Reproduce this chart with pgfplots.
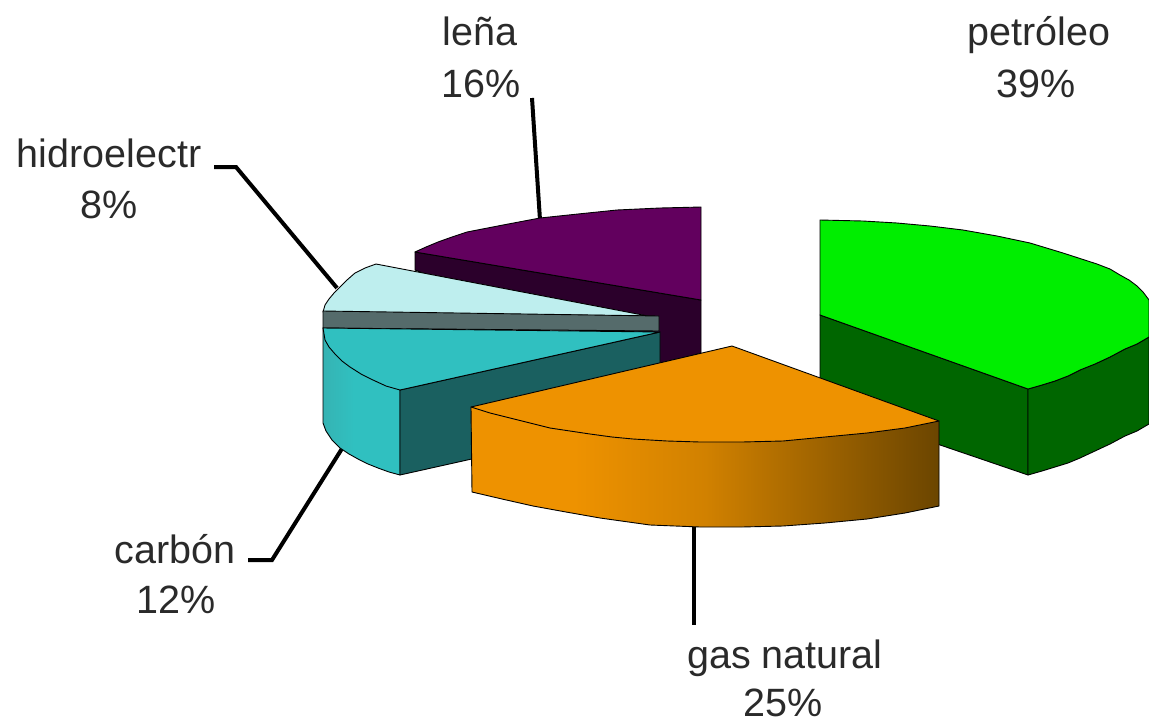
\documentclass[border=0pt]{standalone}
\usepackage{fontspec}
\setmainfont{Liberation Sans}
\usepackage{pgfplots}
\pgfplotsset{compat=1.18}

\definecolor{grn}{HTML}{00EE00}
\definecolor{grnd}{HTML}{006600}
\definecolor{org}{HTML}{EE9200}
\definecolor{brn}{HTML}{6B4500}
\definecolor{pur}{HTML}{62005E}
\definecolor{purd}{HTML}{2B002B}
\definecolor{cyl}{HTML}{BEEEEE}
\definecolor{gry}{HTML}{556B6B}
\definecolor{tea}{HTML}{30C0C0}
\definecolor{tead}{HTML}{1A6060}
\definecolor{txt}{HTML}{2A2A2A}

\pgfdeclarehorizontalshading{orangeside}{100bp}{
  color(0bp)=(org); color(36bp)=(org); color(50bp)=(org!78!brn);
  color(75bp)=(brn); color(100bp)=(brn)}
\pgfdeclarehorizontalshading{tealside}{100bp}{
  color(0bp)=(tea!85!gry); color(25bp)=(tea!85!gry);
  color(45bp)=(tea); color(100bp)=(tea)}

\tikzset{
  edge/.style={draw=black, line width=0.9pt, line join=round},
  leader/.style={draw=black, line width=4pt},
  lbl/.style={anchor=base, text=txt, font=\fontsize{39.5}{39.5}\selectfont, inner sep=0pt},
}

\begin{document}
\begin{tikzpicture}
  \begin{axis}[
      scale only axis,
      width=1149pt,
      height=721pt,
      xmin=0, xmax=1149,
      ymin=0, ymax=721,
      y dir=reverse,
      hide axis,
    ]

    % leader lines
    \addplot[leader] coordinates {(532,98) (540,220)};
    \addplot[leader] coordinates {(214,167) (236,167) (337,288)};
    \addplot[leader] coordinates {(248,560) (272,560) (343,447)};
    \addplot[leader] coordinates {(694,525) (694,625)};

    % lena
    \addplot[edge, fill=purd] coordinates {
        (415,252) (701,300) (701,353) (660,366) (415,270)
      } -- cycle;
    \addplot[edge, fill=pur] coordinates {
        (701,207) (660,208) (617,210) (578,214) (540,218) (503,225)
        (467,232) (452,237) (438,242) (426,247) (415,252) (701,300)
      } -- cycle;

    % hidroelectr
    \addplot[edge, fill=cyl] coordinates {
        (376,264) (365,268) (355,273) (347,280) (340,287) (334,293)
        (329,299) (325,305) (323,312) (648,316)
      } -- cycle;
    \addplot[edge, fill=gry] coordinates {
        (323,311) (659,316) (659,331) (323,328)
      } -- cycle;

    % carbon
    \addplot[edge, shade, shading=tealside] coordinates {
        (323,328) (323,423) (326,431) (332,440) (340,448) (349,454) (358,459)
        (368,464) (378,468) (389,472) (400,475) (400,390)
      } -- cycle;
    \addplot[edge, fill=tead] coordinates {
        (400,390) (660,332) (660,417) (400,475)
      } -- cycle;
    \addplot[edge, fill=tea] coordinates {
        (323,328) (325,340) (329,347) (335,354) (342,361) (350,367) (361,374)
        (373,380) (386,386) (400,390) (660,332)
      } -- cycle;

    % petroleo
    \addplot[edge, fill=grnd] coordinates {
        (820,315) (1028,389) (1028,475) (820,404)
      } -- cycle;
    \addplot[edge, fill=grnd] coordinates {
        (1028,389) (1042,385) (1055,381) (1068,376) (1080,370) (1095,364)
        (1110,357) (1125,349) (1137,344) (1149,337) (1149,424) (1137,431)
        (1125,436) (1110,444) (1095,451) (1080,458) (1068,463) (1055,467)
        (1042,471) (1028,475)
      } -- cycle;
    \addplot[edge, fill=grn] coordinates {
        (820,220) (863,221) (897,223) (930,226) (963,230) (997,236) (1030,243)
        (1063,253) (1097,264) (1110,269) (1120,275) (1129,280) (1137,286)
        (1143,292) (1149,300) (1149,337) (1137,344) (1125,349) (1110,357)
        (1095,364) (1080,370) (1068,376) (1055,381) (1042,385) (1028,389)
        (820,315)
      } -- cycle;

    % gas natural
    \addplot[edge, shade, shading=orangeside] coordinates {
        (471,407) (472,492) (502,499) (533,506) (566,512) (600,518) (650,525)
        (700,527) (742,527) (783,526) (825,523) (867,519) (905,513) (939,506)
        (939,421)
      } -- cycle;
    \addplot[edge, fill=org] coordinates {
        (732,346) (939,421) (905,428) (867,433) (825,437) (783,441) (742,442)
        (700,442) (667,441) (633,439) (612,437) (590,434) (570,431) (550,428)
        (530,423) (510,418) (490,413) (471,407)
      } -- cycle;

    % labels
    \node[lbl] at (axis cs:1039,45) {petróleo};
    \node[lbl] at (axis cs:1036,97) {39\%};
    \node[lbl] at (axis cs:480,45) {leña};
    \node[lbl] at (axis cs:481,97) {16\%};
    \node[lbl] at (axis cs:109,167) {hidroelectr};
    \node[lbl] at (axis cs:109,218) {8\%};
    \node[lbl] at (axis cs:175,563) {carbón};
    \node[lbl] at (axis cs:176,613) {12\%};
    \node[lbl] at (axis cs:785,668) {gas natural};
    \node[lbl] at (axis cs:783,716) {25\%};
  \end{axis}
  \pgfresetboundingbox
  \path (current axis.south west) rectangle (current axis.north east);
\end{tikzpicture}
\end{document}
